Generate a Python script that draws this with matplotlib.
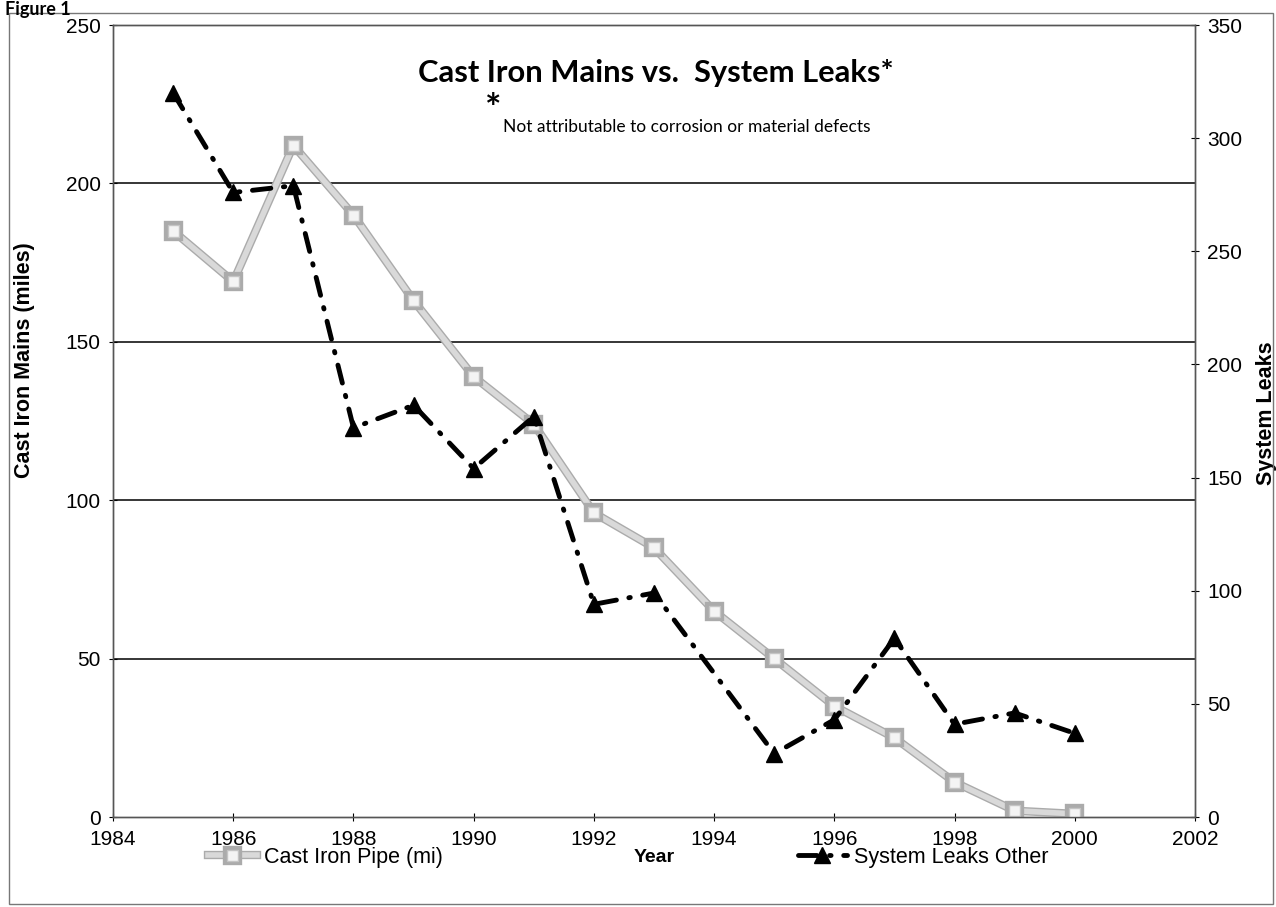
import matplotlib
matplotlib.use("Agg")
import matplotlib.pyplot as plt
import matplotlib.patheffects as pe
from matplotlib.patches import Rectangle

# data
years = [1985, 1986, 1987, 1988, 1989, 1990, 1991, 1992, 1993, 1994,
         1995, 1996, 1997, 1998, 1999, 2000]
cast_iron_miles = [185, 169, 212, 190, 163, 139, 124, 96, 85, 65,
                   50, 35, 25, 11, 2, 1]

# 1994 has no leak marker in the original
leak_years = [1985, 1986, 1987, 1988, 1989, 1990, 1991, 1992, 1993,
              1995, 1996, 1997, 1998, 1999, 2000]
system_leaks = [320, 276, 279, 172, 182, 154, 177, 94, 99,
                28, 43, 79, 41, 46, 37]

x_ticks = list(range(1984, 2003, 2))
left_ticks = list(range(0, 251, 50))
right_ticks = list(range(0, 351, 50))

plt.rcParams["font.family"] = ["Liberation Sans", "DejaVu Sans"]

fig = plt.figure(figsize=(12.76, 9.07), dpi=100)
ax = fig.add_axes([0.0886, 0.0992, 0.8479, 0.8732])
ax2 = ax.twinx()

# cast iron pipe: light grey, faded line
ax.plot(
    years, cast_iron_miles,
    color="#d9d9d9", linewidth=4, marker="s", markersize=8,
    markerfacecolor="#f4f4f4", markeredgecolor="#c4c4c4", markeredgewidth=1,
    path_effects=[pe.Stroke(linewidth=6, foreground="#ababab"), pe.Normal()],
    label="Cast Iron Pipe (mi)", zorder=3,
)

# system leaks: black dash-dot with triangles
leak_line, = ax2.plot(
    leak_years, system_leaks,
    color="black", linewidth=3.5, linestyle=(0, (3.8, 2.6, 0.3, 2.6)),
    dash_capstyle="round", marker="^", markersize=11,
    label="System Leaks Other", zorder=4,
)

ax.set_xlim(1984, 2002)
ax.set_ylim(0, 250)
ax2.set_ylim(0, 350)
ax.set_xticks(x_ticks)
ax.set_yticks(left_ticks)
ax2.set_yticks(right_ticks)

for lv in left_ticks[1:-1]:
    ax.axhline(lv, color="black", linewidth=1.1, zorder=1)

ax.tick_params(axis="both", labelsize=15, direction="inout", length=6,
               width=0.8, pad=6)
ax2.tick_params(axis="y", labelsize=15, direction="inout", length=6,
                width=0.8, pad=6)

for a in (ax, ax2):
    for s in a.spines.values():
        s.set_color("#555555")
        s.set_linewidth(1.0)

ax.set_ylabel("Cast Iron Mains (miles)", fontsize=15.5, fontweight="bold")
ax.yaxis.set_label_coords(-0.072, 0.577)
ax2.set_ylabel("System Leaks", fontsize=15.5, fontweight="bold")
ax2.yaxis.set_label_coords(1.056, 0.51)
ax.set_xlabel("Year", fontsize=14, fontweight="bold", labelpad=0)

ax.text(0.502, 0.94, "Cast Iron Mains vs.  System Leaks*",
        transform=ax.transAxes, ha="center", va="center",
        fontsize=22.2, fontweight="bold", family=["Lato", "DejaVu Sans"])
ax.text(0.351, 0.893, "*", transform=ax.transAxes, ha="center", va="center",
        fontsize=28, fontweight="bold", family=["Lato", "DejaVu Sans"])
ax.text(0.3604, 0.871, "Not attributable to corrosion or material defects",
        transform=ax.transAxes, ha="left", va="center",
        fontsize=12.5, family=["Lato", "DejaVu Sans"])

# legend along the bottom, split either side of the axis title
h1, l1 = ax.get_legend_handles_labels()
fig.legend(h1 + [leak_line], l1 + ["System Leaks Other"],
           loc="center", bbox_to_anchor=(0.492, 0.055), ncol=2,
           frameon=False, fontsize=15.5, handlelength=2.3,
           handletextpad=0.3, columnspacing=16.5)

fig.text(0.004, 0.999, "Figure 1", ha="left", va="top",
         fontsize=13, fontweight="bold", family=["Lato", "DejaVu Sans"])

fig.patches.append(Rectangle((0.007, 0.003), 0.991, 0.983,
                             transform=fig.transFigure, fill=False,
                             edgecolor="#777777", linewidth=1.0))

fig.savefig("out.png", dpi=100)
